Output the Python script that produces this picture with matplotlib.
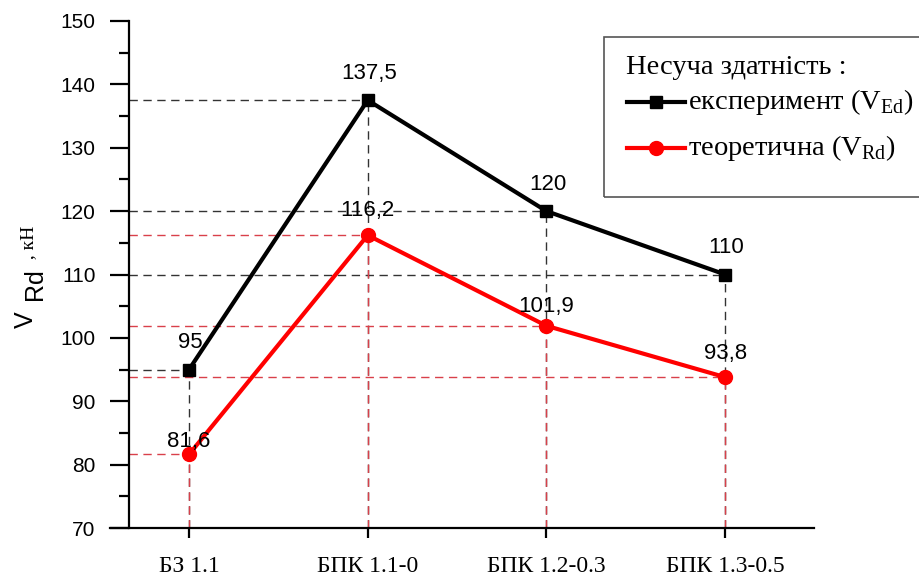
import matplotlib.pyplot as plt
from matplotlib.lines import Line2D
from matplotlib.patches import Rectangle

# data
categories = ['БЗ 1.1', 'БПК 1.1-0', 'БПК 1.2-0.3', 'БПК 1.3-0.5']
v_exp = [95, 137.5, 120, 110]        # експеримент (V_Ed)
v_theor = [81.6, 116.2, 101.9, 93.8]  # теоретична (V_Rd)
exp_labels = ['95', '137,5', '120', '110']
theor_labels = ['81,6', '116,2', '101,9', '93,8']

plt.rcParams['mathtext.fontset'] = 'custom'
plt.rcParams['mathtext.rm'] = 'Liberation Serif'
plt.rcParams['mathtext.sf'] = 'Liberation Sans'

W, H = 919, 578


def fx(px):
    return px / W


def fy(py):
    return 1 - py / H


fig = plt.figure(figsize=(9.19, 5.78), dpi=100)
ax = fig.add_axes([fx(110), fy(528), (814 - 110) / W, (528 - 21) / H])

x = list(range(len(categories)))
x_left = -0.336
ax.set_xlim(-0.442, 3.497)
ax.set_ylim(70, 150)

# dashed guide lines from the y axis to each point and down to the x axis
dash = (0, (6, 4))
for xi, ye, yt in zip(x, v_exp, v_theor):
    ax.plot([x_left, xi], [ye, ye], color='#333333', lw=1.0, ls=dash, zorder=1)
    ax.plot([xi, xi], [70, ye], color='#333333', lw=1.0, ls=dash, zorder=1)
    ax.plot([x_left, xi], [yt, yt], color='#d9404a', lw=1.0, ls=dash, zorder=1.5)
    ax.plot([xi, xi], [70, yt], color='#d9404a', lw=1.0, ls=dash, zorder=1.5)

ax.plot(x, v_exp, color='black', lw=3, marker='s', ms=9, zorder=3, clip_on=False)
ax.plot(x, v_theor, color='#ff0000', lw=3, marker='o', ms=10, zorder=3, clip_on=False)

for xi, yi, lab in zip(x, v_exp, exp_labels):
    ax.annotate(lab, (xi, yi), xytext=(1, 19.5), textcoords='offset points',
                ha='center', va='center', fontsize=16, family='Liberation Sans')
for xi, yi, lab, dy in zip(x, v_theor, theor_labels, [9.5, 18, 14, 17]):
    ax.annotate(lab, (xi, yi), xytext=(0, dy), textcoords='offset points',
                ha='center', va='center', fontsize=16, family='Liberation Sans')

# axes style
ax.spines['top'].set_visible(False)
ax.spines['right'].set_visible(False)
ax.spines['left'].set_position(('data', x_left))
ax.spines['left'].set_linewidth(1.6)
ax.spines['bottom'].set_linewidth(1.6)

ax.set_xticks(x)
ax.set_xticklabels(categories, family='Liberation Serif', fontsize=17)
ax.set_yticks(range(70, 151, 10))
ax.set_yticks(range(75, 150, 10), minor=True)
ax.tick_params(axis='y', which='major', direction='out', length=14, width=1.6,
               labelsize=15, pad=10)
ax.tick_params(axis='y', which='minor', direction='out', length=7, width=1.6)
ax.tick_params(axis='x', direction='out', length=7, width=1.6, pad=13)
for t in ax.get_yticklabels():
    t.set_family('Liberation Sans')

# y axis title: V with subscript Rd (sans) and ", кН" (serif)
fig.text(fx(33), fy(328), 'V', family='Liberation Sans', fontsize=18,
         rotation=90, rotation_mode='anchor', ha='left', va='baseline')
fig.text(fx(42), fy(300), 'Rd', family='Liberation Sans', fontsize=18,
         rotation=90, rotation_mode='anchor', ha='left', va='baseline')
fig.text(fx(33), fy(264), ' , кН', family='Liberation Serif', fontsize=14,
         rotation=90, rotation_mode='anchor', ha='left', va='baseline')

# legend box, drawn in figure pixels
fig.patches.append(Rectangle((fx(604), fy(197)), 330 / W, 160 / H, transform=fig.transFigure,
                             fill=False, edgecolor='#555555', lw=1.2))
fig.text(fx(626), fy(68), 'Несуча здатність :', family='Liberation Serif', fontsize=20.5,
         va='center')
fig.lines.append(Line2D([fx(627), fx(685)], [fy(102), fy(102)], transform=fig.transFigure,
                        color='black', lw=3))
fig.lines.append(Line2D([fx(656)], [fy(102)], transform=fig.transFigure,
                        color='black', marker='s', ms=9))
fig.text(fx(688), fy(102), r'експеримент (V$_{\mathrm{Ed}}$)', family='Liberation Serif',
         fontsize=20.5, va='center')
fig.lines.append(Line2D([fx(627), fx(685)], [fy(148), fy(148)], transform=fig.transFigure,
                        color='#ff0000', lw=3))
fig.lines.append(Line2D([fx(656)], [fy(148)], transform=fig.transFigure,
                        color='#ff0000', marker='o', ms=10))
fig.text(fx(688), fy(148), r'теоретична (V$_{\mathrm{Rd}}$)', family='Liberation Serif',
         fontsize=20.5, va='center')

fig.savefig('out.png', dpi=100)
